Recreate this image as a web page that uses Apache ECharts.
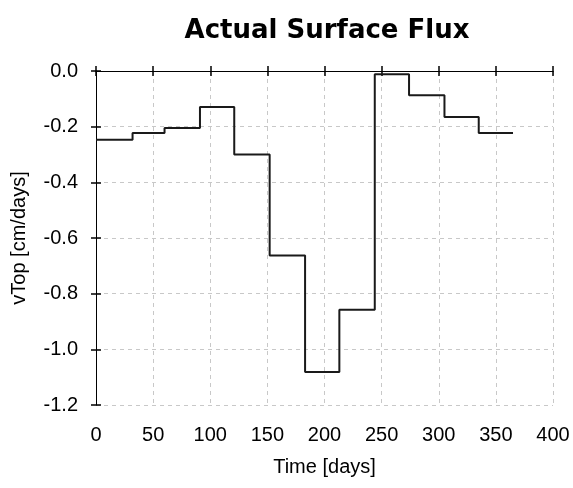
<!DOCTYPE html>
<html>
<head>
<meta charset="utf-8">
<script src="https://cdn.jsdelivr.net/npm/echarts@6/dist/echarts.min.js"></script>
<style>html,body{margin:0;padding:0;background:#fff}#c{width:573px;height:488px}</style>
</head>
<body>
<div id="c"></div>
<script>
// step start days and flux held from that day onward
const days = [0, 32, 60, 91, 121, 152, 183, 213, 244, 274, 305, 335, 365];
const vTop = [-0.247, -0.223, -0.205, -0.129, -0.30, -0.663, -1.081, -0.858, -0.012, -0.087, -0.165, -0.223, -0.223];
const xTicks = [0, 50, 100, 150, 200, 250, 300, 350, 400];
const yTicks = [-1.2, -1.0, -0.8, -0.6, -0.4, -0.2, 0.0];

const font = '"Liberation Sans", Arial, sans-serif';
const chart = echarts.init(document.getElementById('c'), null, {renderer: 'canvas'});
const grid = {left: 96, right: 20, top: 71, bottom: 83};
const xBase = {type: 'value', min: xTicks[0], max: xTicks[xTicks.length - 1], interval: 50, gridIndex: 0};
const yBase = {type: 'value', min: yTicks[0], max: yTicks[yTicks.length - 1], interval: 0.2, gridIndex: 0};
const axLine = {show: true, lineStyle: {color: '#000', width: 1}};
const tick = (inside) => ({show: true, inside: inside, length: 5, lineStyle: {color: '#000', width: 1.5}});

chart.setOption({
  animation: false,
  backgroundColor: '#fff',
  title: {
    text: 'Actual Surface Flux', left: 322, top: 13, textAlign: 'center',
    textStyle: {fontFamily: '"DejaVu Sans", sans-serif', fontWeight: 'bold', fontSize: 26, color: '#000'}
  },
  grid: grid,
  xAxis: [
    Object.assign({}, xBase, {
      position: 'bottom', axisLine: axLine, axisTick: tick(false),
      name: 'Time [days]', nameLocation: 'middle', nameGap: 52,
      nameTextStyle: {fontFamily: font, fontSize: 20, color: '#000'},
      axisLabel: {fontFamily: font, fontSize: 20, color: '#000', margin: 20, formatter: v => String(v)},
      splitLine: {show: true, lineStyle: {color: '#c8c8c8', type: [4, 4], width: 1}}
    }),
    Object.assign({}, xBase, {position: 'bottom', axisLine: {show: false}, axisTick: tick(true), axisLabel: {show: false}, splitLine: {show: false}}),
    Object.assign({}, xBase, {position: 'top', axisLine: axLine, axisTick: tick(false), axisLabel: {show: false}, splitLine: {show: false}}),
    Object.assign({}, xBase, {position: 'top', axisLine: {show: false}, axisTick: tick(true), axisLabel: {show: false}, splitLine: {show: false}})
  ],
  yAxis: [
    Object.assign({}, yBase, {
      position: 'left', axisLine: axLine, axisTick: tick(false),
      name: 'vTop [cm/days]', nameLocation: 'middle', nameGap: 67,
      nameTextStyle: {fontFamily: font, fontSize: 20, color: '#000'},
      axisLabel: {fontFamily: font, fontSize: 20, color: '#000', margin: 18, formatter: v => v.toFixed(1)},
      splitLine: {show: true, lineStyle: {color: '#c8c8c8', type: [4, 4], width: 1}}
    }),
    Object.assign({}, yBase, {position: 'left', axisLine: {show: false}, axisTick: tick(true), axisLabel: {show: false}, splitLine: {show: false}})
  ],
  series: [{
    type: 'line', step: 'end', xAxisIndex: 0, yAxisIndex: 0,
    data: days.map((d, i) => [d, vTop[i]]),
    showSymbol: false, symbol: 'none',
    lineStyle: {color: '#1a1a1a', width: 2}
  }]
});
</script>
</body>
</html>
